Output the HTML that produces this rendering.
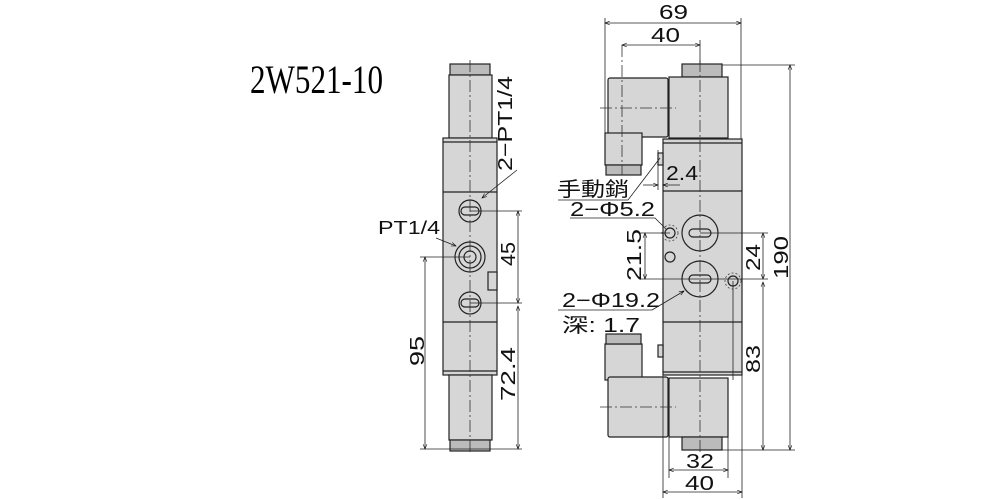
<!DOCTYPE html>
<html><head><meta charset="utf-8"><style>body{margin:0;background:#fff}svg{display:block}</style></head>
<body>
<svg width="1000" height="500" viewBox="0 0 1000 500" xmlns="http://www.w3.org/2000/svg" font-family="Liberation Sans, 'Noto Sans CJK TC', sans-serif">
<defs>
<marker id="a" viewBox="0 0 10 10" refX="10" refY="5" markerWidth="8" markerHeight="6" orient="auto-start-reverse"><path d="M0,1 L10,5 L0,9" fill="none" stroke="#000" stroke-width="1.2"/></marker>
</defs>
<text x="250" y="93" font-family="Liberation Serif, serif" font-size="40" textLength="133" lengthAdjust="spacingAndGlyphs">2W521-10</text>

<g stroke="#222" stroke-width="1.2" fill="#d6d6d6">
<!-- LEFT VIEW -->
<rect x="450" y="64" width="40" height="11" fill="#bbb"/>
<rect x="449" y="75" width="43" height="63"/>
<rect x="443" y="138" width="54" height="237"/>
<line x1="443" y1="192" x2="497" y2="192"/>
<line x1="443" y1="322" x2="497" y2="322"/>
<line x1="443" y1="142" x2="497" y2="142"/>
<line x1="443" y1="371" x2="497" y2="371"/>
<rect x="449" y="375" width="43" height="65"/>
<rect x="450" y="440" width="40" height="11" fill="#bbb"/>
<circle cx="470" cy="211" r="11"/>
<rect x="461" y="207" width="18" height="8" rx="4"/>
<circle cx="470" cy="257" r="15"/>
<circle cx="470" cy="257" r="11"/>
<circle cx="470" cy="257" r="6"/>
<circle cx="470" cy="303" r="11"/>
<rect x="461" y="299" width="18" height="8" rx="4"/>
<rect x="488" y="272" width="9" height="18"/>

<!-- RIGHT VIEW -->
<rect x="682" y="64" width="40" height="13" fill="#bbb"/>
<rect x="669" y="77" width="59" height="61"/>
<rect x="608" y="78" width="60" height="59" rx="2"/>
<rect x="605" y="133" width="37" height="32"/>
<rect x="606" y="165" width="35" height="10" fill="#bbb"/>
<rect x="663" y="139" width="79" height="236"/>
<line x1="663" y1="143" x2="742" y2="143"/>
<line x1="663" y1="191" x2="742" y2="191"/>
<line x1="663" y1="322" x2="742" y2="322"/>
<line x1="663" y1="372" x2="742" y2="372"/>
<rect x="658" y="153" width="5" height="12"/>
<rect x="658" y="345" width="5" height="12"/>
<circle cx="700" cy="233" r="18"/>
<rect x="689" y="229" width="22" height="8" rx="4"/>
<circle cx="700" cy="279" r="18"/>
<rect x="689" y="275" width="22" height="8" rx="4"/>
<circle cx="670" cy="233" r="5"/>
<circle cx="670" cy="257" r="5"/>
<circle cx="733" cy="281" r="5"/>
<rect x="605" y="344" width="37" height="36"/>
<rect x="606" y="334" width="35" height="10" fill="#bbb"/>
<rect x="608" y="377" width="60" height="60" rx="2"/>
<rect x="669" y="378" width="59" height="59"/>
<rect x="682" y="437" width="40" height="13" fill="#bbb"/>
</g>
<g fill="none" stroke="#444" stroke-width="0.8" stroke-dasharray="2,2">
<circle cx="670" cy="233" r="8"/><circle cx="733" cy="281" r="8"/>
</g>
<g stroke="#333" stroke-width="0.8" stroke-dasharray="12,3,2,3" fill="none">
<line x1="470" y1="60" x2="470" y2="455"/>
<line x1="700" y1="60" x2="700" y2="455"/>
<line x1="600" y1="108" x2="676" y2="108"/>
<line x1="600" y1="407" x2="676" y2="407"/>
<line x1="622" y1="45" x2="622" y2="175"/>
</g>

<g stroke="#222" stroke-width="0.8" fill="none">
<line x1="470" y1="211" x2="522" y2="211"/>
<line x1="470" y1="303" x2="522" y2="303"/>
<line x1="420" y1="257" x2="470" y2="257"/>
<line x1="420" y1="449" x2="522" y2="449"/>
<line x1="518" y1="211" x2="518" y2="303" marker-start="url(#a)" marker-end="url(#a)"/>
<line x1="518" y1="306" x2="518" y2="449" marker-start="url(#a)" marker-end="url(#a)"/>
<line x1="425" y1="257" x2="425" y2="449" marker-start="url(#a)" marker-end="url(#a)"/>
<line x1="517" y1="170" x2="482" y2="198" marker-end="url(#a)"/>
<line x1="436" y1="238" x2="456" y2="246" marker-end="url(#a)"/>

<line x1="605" y1="18" x2="605" y2="165"/>
<line x1="741" y1="18" x2="741" y2="139"/>
<line x1="605" y1="23" x2="741" y2="23" marker-start="url(#a)" marker-end="url(#a)"/>
<line x1="700" y1="40" x2="700" y2="64"/>
<line x1="622" y1="45" x2="700" y2="45" marker-start="url(#a)" marker-end="url(#a)"/>
<line x1="722" y1="65" x2="795" y2="65"/>
<line x1="722" y1="450" x2="795" y2="450"/>
<line x1="790" y1="65" x2="790" y2="450" marker-start="url(#a)" marker-end="url(#a)"/>
<line x1="700" y1="233" x2="768" y2="233"/>
<line x1="700" y1="279" x2="768" y2="279"/>
<line x1="763" y1="233" x2="763" y2="279" marker-start="url(#a)" marker-end="url(#a)"/>
<line x1="763" y1="282" x2="763" y2="450" marker-start="url(#a)" marker-end="url(#a)"/>
<line x1="640" y1="233" x2="670" y2="233"/>
<line x1="640" y1="279" x2="700" y2="279"/>
<line x1="645" y1="233" x2="645" y2="279" marker-start="url(#a)" marker-end="url(#a)"/>
<line x1="733" y1="281" x2="733" y2="380"/>
<line x1="669" y1="437" x2="669" y2="478"/>
<line x1="728" y1="437" x2="728" y2="478"/>
<line x1="669" y1="470" x2="728" y2="470" marker-start="url(#a)" marker-end="url(#a)"/>
<line x1="663" y1="375" x2="663" y2="498"/>
<line x1="742" y1="375" x2="742" y2="498"/>
<line x1="663" y1="492" x2="742" y2="492" marker-start="url(#a)" marker-end="url(#a)"/>
<line x1="658" y1="150" x2="658" y2="190"/>
<line x1="663" y1="150" x2="663" y2="190"/>
<line x1="643" y1="185" x2="658" y2="185" marker-end="url(#a)"/>
<line x1="680" y1="185" x2="663" y2="185" marker-end="url(#a)"/>
<polyline points="558,200 628,200 660,158"/>
<polyline points="570,218 655,218 666,229"/>
<polyline points="558,310 652,310" />
<line x1="652" y1="310" x2="684" y2="291" marker-end="url(#a)"/>
</g>

<g font-size="20" fill="#111" lengthAdjust="spacingAndGlyphs">
<text x="512" y="171" transform="rotate(-90 512 171)" textLength="95" lengthAdjust="spacingAndGlyphs">2−PT1/4</text>
<text x="378" y="234" font-size="18" textLength="62" lengthAdjust="spacingAndGlyphs">PT1/4</text>
<text x="515" y="266" transform="rotate(-90 515 266)" textLength="24" lengthAdjust="spacingAndGlyphs">45</text>
<text x="515" y="401" transform="rotate(-90 515 401)" textLength="54" lengthAdjust="spacingAndGlyphs">72.4</text>
<text x="424" y="366" transform="rotate(-90 424 366)" textLength="30" lengthAdjust="spacingAndGlyphs">95</text>
<text x="659" y="19" textLength="29" lengthAdjust="spacingAndGlyphs">69</text>
<text x="651" y="42" textLength="29" lengthAdjust="spacingAndGlyphs">40</text>
<text x="666" y="180" textLength="32" lengthAdjust="spacingAndGlyphs">2.4</text>
<text x="557" y="196" textLength="72" lengthAdjust="spacingAndGlyphs">手動銷</text>
<text x="570" y="216" textLength="85" lengthAdjust="spacingAndGlyphs">2−Φ5.2</text>
<text x="641" y="281" transform="rotate(-90 641 281)" textLength="52" lengthAdjust="spacingAndGlyphs">21.5</text>
<text x="562" y="307" textLength="98" lengthAdjust="spacingAndGlyphs">2−Φ19.2</text>
<text x="562" y="332" textLength="78" lengthAdjust="spacingAndGlyphs">深:  1.7</text>
<text x="760" y="271" transform="rotate(-90 760 271)" textLength="27" lengthAdjust="spacingAndGlyphs">24</text>
<text x="760" y="373" transform="rotate(-90 760 373)" textLength="28" lengthAdjust="spacingAndGlyphs">83</text>
<text x="788" y="279" transform="rotate(-90 788 279)" textLength="43" lengthAdjust="spacingAndGlyphs">190</text>
<text x="686" y="468" textLength="28" lengthAdjust="spacingAndGlyphs">32</text>
<text x="685" y="490" textLength="29" lengthAdjust="spacingAndGlyphs">40</text>
</g>
</svg>
</body></html>
